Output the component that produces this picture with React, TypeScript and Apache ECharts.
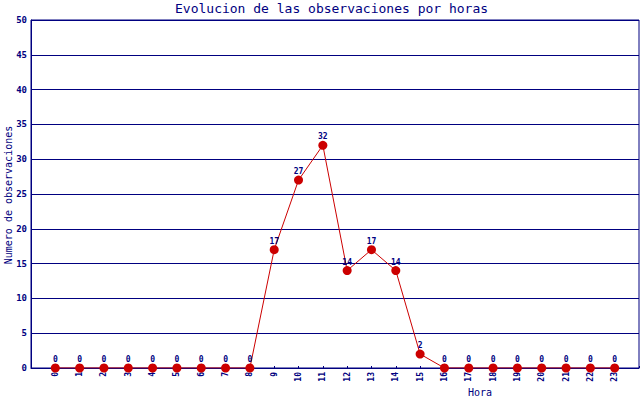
import React, { useEffect, useRef } from "react";
import * as echarts from "echarts";

const hours = [0, 1, 2, 3, 4, 5, 6, 7, 8, 9, 10, 11, 12, 13, 14, 15, 16, 17, 18, 19, 20, 21, 22, 23];
const observations = [0, 0, 0, 0, 0, 0, 0, 0, 0, 17, 27, 32, 14, 17, 14, 2, 0, 0, 0, 0, 0, 0, 0, 0];
const title = "Evolucion de las observaciones por horas";
const yName = "Numero de observaciones";
const xName = "Hora";

const NAVY = "#000080";
const RED = "#CC0000";
const MONO = "'DejaVu Sans Mono', 'Liberation Mono', monospace";

export default function App() {
  const ref = useRef<HTMLDivElement>(null);
  useEffect(() => {
    if (!ref.current) return;
    const chart = echarts.init(ref.current, null, { renderer: "svg" });
    chart.setOption({
      animation: false,
      backgroundColor: "#ffffff",
      title: {
        text: title,
        left: 175,
        top: 2,
        padding: 0,
        textStyle: { color: NAVY, fontFamily: MONO, fontSize: 13, fontWeight: "normal" },
        itemGap: 0,
      },
      grid: {
        left: 31,
        right: 1,
        top: 20,
        bottom: 32,
        show: true,
        borderColor: NAVY,
        borderWidth: 1,
        containLabel: false,
        outerBoundsMode: "none",
      },
      graphic: [
        {
          type: "text",
          left: 468,
          top: 387,
          style: { text: xName, fill: NAVY, font: `10px ${MONO}` },
        },
        {
          type: "text",
          x: 8,
          y: 195,
          rotation: Math.PI / 2,
          style: {
            text: yName,
            fill: NAVY,
            font: `10px ${MONO}`,
            align: "center",
            verticalAlign: "middle",
          },
        },
      ],
      xAxis: {
        type: "value",
        min: -1,
        max: 24,
        interval: 1,
        axisLine: { show: true, onZero: false, lineStyle: { color: NAVY, width: 1 } },
        axisTick: { show: true, inside: true, length: 2, lineStyle: { color: NAVY } },
        splitLine: { show: false },
        axisLabel: {
          rotate: 90,
          margin: 4,
          color: NAVY,
          fontFamily: MONO,
          fontSize: 8,
          fontWeight: "bold",
          formatter: (v: number) => (v < 0 || v > 23 ? "" : String(v)),
        },
      },
      yAxis: {
        type: "value",
        min: 0,
        max: 50,
        interval: 5,
        axisLine: { show: true, onZero: false, lineStyle: { color: NAVY, width: 1 } },
        axisTick: { show: false },
        splitLine: { show: true, lineStyle: { color: NAVY, width: 1 } },
        axisLabel: {
          margin: 4,
          color: NAVY,
          fontFamily: MONO,
          fontSize: 9,
          fontWeight: "bold",
        },
      },
      series: [
        {
          type: "line",
          data: hours.map((h, i) => [h, observations[i]]),
          symbol: "circle",
          symbolSize: 9,
          itemStyle: { color: RED },
          lineStyle: { color: RED, width: 1 },
          label: {
            show: true,
            position: "top",
            distance: 0,
            color: NAVY,
            fontFamily: MONO,
            fontSize: 8,
            fontWeight: "bold",
            formatter: (p: any) => String(p.value[1]),
          },
        },
      ],
    });
    return () => chart.dispose();
  }, []);
  return (
    <div
      ref={ref}
      style={{ position: "absolute", left: 0, top: 0, width: 640, height: 400 }}
    />
  );
}
